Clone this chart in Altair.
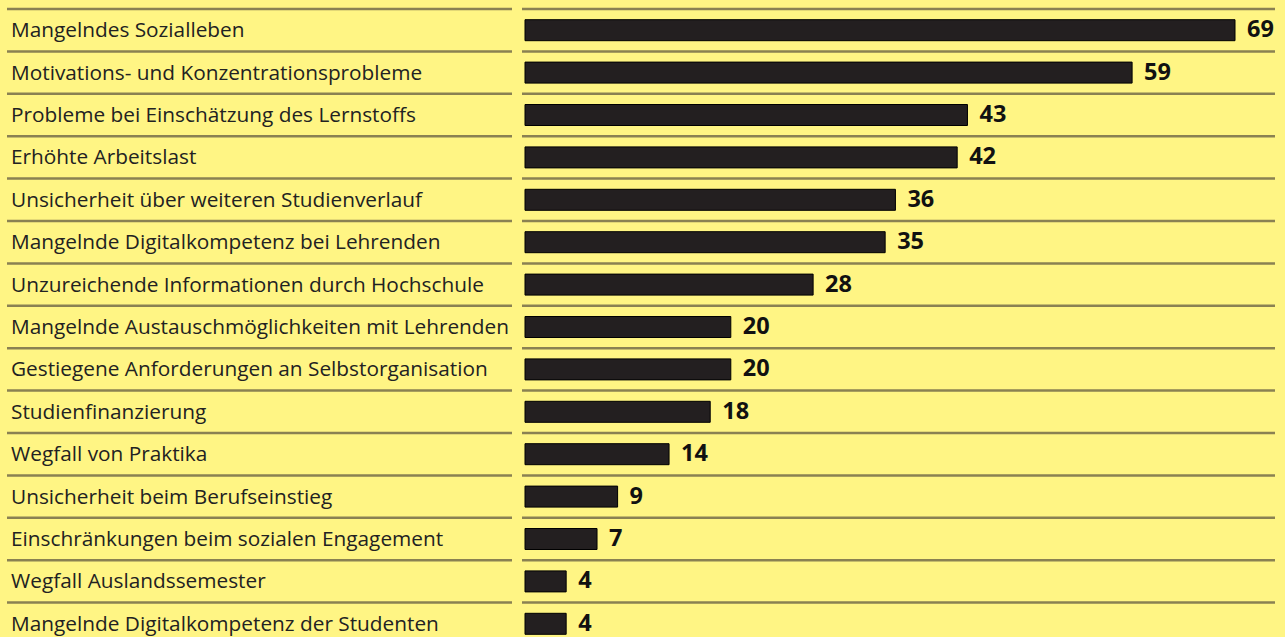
import altair as alt
import pandas as pd

categories = [
    "Mangelndes Sozialleben",
    "Motivations- und Konzentrationsprobleme",
    "Probleme bei Einschätzung des Lernstoffs",
    "Erhöhte Arbeitslast",
    "Unsicherheit über weiteren Studienverlauf",
    "Mangelnde Digitalkompetenz bei Lehrenden",
    "Unzureichende Informationen durch Hochschule",
    "Mangelnde Austauschmöglichkeiten mit Lehrenden",
    "Gestiegene Anforderungen an Selbstorganisation",
    "Studienfinanzierung",
    "Wegfall von Praktika",
    "Unsicherheit beim Berufseinstieg",
    "Einschränkungen beim sozialen Engagement",
    "Wegfall Auslandssemester",
    "Mangelnde Digitalkompetenz der Studenten",
]
values = [69, 59, 43, 42, 36, 35, 28, 20, 20, 18, 14, 9, 7, 4, 4]

df = pd.DataFrame({"cat": categories, "val": values})

BG = "#FFF584"
LINE = "#8a8152"
FONT = "Open Sans"

yscale = alt.Scale(domain=categories, range=[9, 9 + 15 * 42.4], paddingInner=0, paddingOuter=0)
xscale = alt.Scale(domain=[0, 69], range=[525, 1235])

y = alt.Y("cat:N", scale=yscale, axis=None, sort=categories)
ytop = alt.Y("cat:N", scale=yscale, axis=None, sort=categories, bandPosition=0)

base = alt.Chart(df)

rule_left = base.mark_rule(color=LINE, strokeWidth=2.5).encode(
    y=ytop, x=alt.value(7), x2=alt.value(512)
)
rule_right = base.mark_rule(color=LINE, strokeWidth=2.5).encode(
    y=ytop, x=alt.value(522), x2=alt.value(1275)
)

bars = base.mark_bar(size=21, color="#231f20", stroke="#000000", strokeWidth=1).encode(
    y=y,
    x=alt.X("val:Q", scale=xscale, axis=None),
)

labels = base.mark_text(align="left", baseline="middle", dy=1, font=FONT, fontSize=20.8,
                        color="#222222").encode(
    y=y, x=alt.value(11), text="cat:N"
)

vals = base.mark_text(align="left", baseline="middle", dx=12, font=FONT, fontSize=23.5,
                      fontWeight="bold", color="#111111").encode(
    y=y, x=alt.X("val:Q", scale=xscale, axis=None), text="val:Q"
)

chart = alt.layer(rule_left, rule_right, bars, labels, vals).properties(
    width=1285, height=637, background=BG, padding=0,
    autosize=alt.AutoSizeParams(type="none"),
).configure_view(stroke=None, fill=BG)

chart.save("out.html", embed_options={"renderer": "svg", "actions": False})
